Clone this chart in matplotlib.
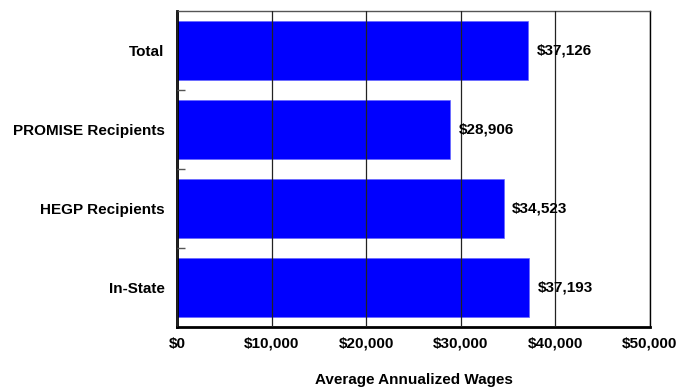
import matplotlib
matplotlib.use("Agg")
import matplotlib.pyplot as plt

plt.rcParams['font.family'] = ['Liberation Sans', 'DejaVu Sans']

groups = ["Total", "PROMISE Recipients", "HEGP Recipients", "In-State"]
wages = [37126, 28906, 34523, 37193]
x_ticks = [0, 10000, 20000, 30000, 40000, 50000]
x_labels = ["$0", "$10,000", "$20,000", "$30,000", "$40,000", "$50,000"]

fig = plt.figure(figsize=(6.76, 3.9), dpi=100)
ax = fig.add_axes([0.262, 0.1615, 0.6995, 0.8105])

pos = list(range(len(groups)))
ax.barh(pos, wages, height=0.75, color="#0000FF", edgecolor="#6666FF", linewidth=0.5, zorder=2)

# value labels just past the end of each bar
for p, w in zip(pos, wages):
    ax.text(w + 900, p, "${:,}".format(w), va="center", ha="left",
            fontsize=11, fontweight="bold", zorder=4)

ax.set_xlim(0, 50000)
ax.set_ylim(3.5, -0.5)
ax.set_xticks(x_ticks)
ax.set_xticklabels(x_labels, fontsize=11, fontweight="bold")
ax.tick_params(axis="x", length=0, pad=7)

ax.set_yticks(pos)
ax.set_yticklabels(groups, fontsize=11, fontweight="bold")
ax.tick_params(axis="y", which="major", length=0, pad=9)
ax.set_yticks([0.5, 1.5, 2.5], minor=True)
ax.tick_params(axis="y", which="minor", direction="in", length=6, color="#555555", width=1)

ax.grid(axis="x", color="#222222", linewidth=0.9, zorder=3)
ax.set_axisbelow(False)

ax.spines["left"].set_linewidth(2)
ax.spines["bottom"].set_linewidth(2)
ax.spines["top"].set_linewidth(1)
ax.spines["right"].set_linewidth(1)
ax.spines["top"].set_color("#555555")

ax.set_xlabel("Average Annualized Wages", fontsize=11, fontweight="bold", labelpad=16)

fig.savefig("out.png", dpi=100)
